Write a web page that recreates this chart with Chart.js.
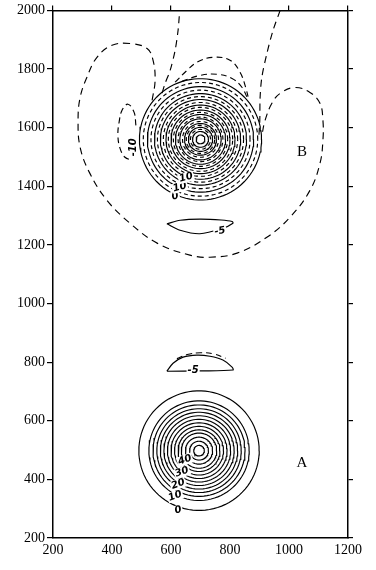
<!DOCTYPE html>
<html><head><meta charset="utf-8">
<script src="https://cdn.jsdelivr.net/npm/chart.js@4.4.1/dist/chart.umd.min.js"></script>
<style>html,body{margin:0;padding:0;background:#fff}#wrap{width:376px;height:570px;position:relative}</style>
</head><body><div id="wrap"><canvas id="c" width="376" height="570"></canvas></div>
<script>
// axis ticks
const xTicks = [200, 400, 600, 800, 1000, 1200];
const yTicks = [200, 400, 600, 800, 1000, 1200, 1400, 1600, 1800, 2000];

// source A: concentric solid contours (centre, radii)
const centerA = [695, 498];
const ringsA = [204, 170, 156, 143, 131, 119, 107, 95, 83, 71, 60, 46, 32, 18];

// source B: solid and dashed concentric contours
const centerB = [700, 1560];
const ringsBSolid = [207, 180, 156, 136, 117, 100, 85, 70, 54, 41, 27, 15];
const ringsBDashed = [194, 168, 146, 126, 109, 92, 76, 61, 48, 34];

// large dashed horseshoe contour around B
const horseshoe = [[536,1693],[546,1761],[539,1830],[519,1870],[461,1887],[400,1881],[349,1840],[315,1772],[292,1703],[285,1625],[292,1533],[325,1444],[383,1352],[461,1274],[553,1206],[664,1165],[732,1158],[824,1172],[925,1226],[1003,1294],[1071,1386],[1105,1478],[1115,1557],[1115,1625],[1105,1683],[1071,1720],[1020,1737],[970,1717],[942,1683],[919,1625],[908,1574]];
// dashed stems reaching the top edge
const leftStem = [[628,1980],[624,1932],[614,1864],[597,1795],[580,1751],[566,1705]];
const rightStem = [[970,2000],[946,1932],[925,1853],[908,1772],[902,1703],[901,1625],[898,1574]];
// dashed arches over B
const capOuter = [[614,1755],[654,1795],[688,1823],[742,1840],[800,1830],[834,1789],[854,1734],[864,1693]];
const capInner = [[637,1758],[698,1778],[756,1782],[807,1768],[841,1737],[858,1703]];
// small dashed lobe labelled -10
const lobeMinus10 = [[481,1608],[475,1652],[454,1680],[434,1659],[424,1618],[420,1574],[427,1530],[444,1499],[468,1489]];
// solid -5 closed contour below B
const lensB = [[586,1272],[631,1284],[698,1288],[770,1285],[807,1280],[810,1274],[776,1257],[698,1238],[631,1250],[586,1272]];
// -5 contour above A (solid) and dashed arc
const lensA = [[586,769],[607,796],[641,817],[688,824],[732,820],[776,807],[807,783],[810,773],[698,770],[586,769]];
const lensAArc = [[620,812],[655,826],[700,832],[745,828],[785,813]];

// text annotations
const contourLabels = [
  {t:'0', x:614, y:1366, r:-15}, {t:'10', x:630, y:1397, r:-15}, {t:'10', x:651, y:1430, r:-15},
  {t:'-10', x:471, y:1533, r:-90},
  {t:'-5', x:766, y:1247, r:-10},
  {t:'-5', x:675, y:773, r:0},
  {t:'0', x:624, y:295, r:-15}, {t:'10', x:614, y:343, r:-20}, {t:'20', x:624, y:384, r:-20},
  {t:'30', x:637, y:425, r:-20}, {t:'40', x:647, y:466, r:-20}
];
const pointLabels = [{t:'A', x:1044, y:456}, {t:'B', x:1044, y:1516}];

function ring(c, r) {
  const pts = [];
  const n = 90;
  for (let k = 0; k <= n; k++) {
    const a = 2 * Math.PI * k / n;
    pts.push({x: c[0] + r * Math.cos(a), y: c[1] + r * Math.sin(a)});
  }
  return pts;
}
const toPts = arr => arr.map(p => ({x: p[0], y: p[1]}));

const datasets = [];
function add(data, dash, tension, width) {
  datasets.push({data, showLine: true, pointRadius: 0, borderColor: '#000', borderWidth: width || 1.15,
    borderDash: dash || [], tension: tension || 0, fill: false});
}
ringsA.forEach(r => add(ring(centerA, r)));
ringsBSolid.forEach(r => add(ring(centerB, r)));
ringsBDashed.forEach(r => add(ring(centerB, r), [4, 3]));
add(toPts(horseshoe), [7, 5], 0.4);
add(toPts(leftStem), [7, 5], 0.3);
add(toPts(rightStem), [7, 5], 0.3);
add(toPts(capOuter), [6, 4], 0.4);
add(toPts(capInner), [6, 4], 0.4);
add(toPts(lobeMinus10), [6, 4], 0.4);
add(toPts(lensB), [], 0.3);
add(toPts(lensA), [], 0.3);
add(toPts(lensAArc), [6, 4], 0.4);

const textPlugin = {
  id: 'texts',
  afterDatasetsDraw(chart) {
    const {ctx, scales: {x, y}} = chart;
    ctx.save();
    for (const l of contourLabels) {
      const px = x.getPixelForValue(l.x), py = y.getPixelForValue(l.y);
      ctx.save();
      ctx.translate(px, py);
      ctx.rotate(l.r * Math.PI / 180);
      ctx.font = 'bold italic 10px "DejaVu Sans"';
      ctx.textAlign = 'center'; ctx.textBaseline = 'middle';
      const w = ctx.measureText(l.t).width;
      ctx.fillStyle = '#fff';
      ctx.fillRect(-w / 2 - 1, -5, w + 2, 10);
      ctx.fillStyle = '#000';
      ctx.fillText(l.t, 0, 0);
      ctx.restore();
    }
    ctx.font = '15px "Liberation Serif"';
    ctx.textAlign = 'center'; ctx.textBaseline = 'middle';
    ctx.fillStyle = '#000';
    for (const l of pointLabels) {
      ctx.fillText(l.t, x.getPixelForValue(l.x), y.getPixelForValue(l.y));
    }
    ctx.restore();
  }
};

const font = {family: '"Liberation Serif"', size: 14};
const axisBorder = {display: true, color: '#000', width: 1.5};
const plain = v => String(v);

new Chart(document.getElementById('c'), {
  type: 'scatter',
  data: {datasets},
  options: {
    responsive: false, animation: false,
    layout: {padding: 0},
    plugins: {legend: {display: false}, tooltip: {enabled: false}},
    scales: {
      x: {type: 'linear', position: 'bottom', min: 200, max: 1200,
        afterBuildTicks: s => { s.ticks = xTicks.map(v => ({value: v})); },
        ticks: {font, color: '#000', padding: 4, maxRotation: 0, callback: plain},
        grid: {drawOnChartArea: false, drawTicks: false, color: '#000'},
        border: axisBorder, afterFit: s => { s.height = 32; }},
      x2: {type: 'linear', position: 'top', min: 200, max: 1200,
        afterBuildTicks: s => { s.ticks = xTicks.map(v => ({value: v})); },
        ticks: {display: false},
        grid: {drawOnChartArea: false, drawTicks: true, tickLength: 5, color: '#000', lineWidth: 1.2},
        border: axisBorder, afterFit: s => { s.height = 10; }},
      y: {type: 'linear', position: 'left', min: 200, max: 2000,
        afterBuildTicks: s => { s.ticks = yTicks.map(v => ({value: v})); },
        ticks: {font, color: '#000', padding: 2, callback: plain},
        grid: {drawOnChartArea: false, drawTicks: true, tickLength: 6, color: '#000', lineWidth: 1.2},
        border: axisBorder, afterFit: s => { s.width = 53; }},
      y2: {type: 'linear', position: 'right', min: 200, max: 2000,
        afterBuildTicks: s => { s.ticks = yTicks.map(v => ({value: v})); },
        ticks: {display: false},
        grid: {drawOnChartArea: false, drawTicks: true, tickLength: 5, color: '#000', lineWidth: 1.2},
        border: axisBorder, afterFit: s => { s.width = 28; }}
    }
  },
  plugins: [textPlugin]
});
</script>
</body></html>
